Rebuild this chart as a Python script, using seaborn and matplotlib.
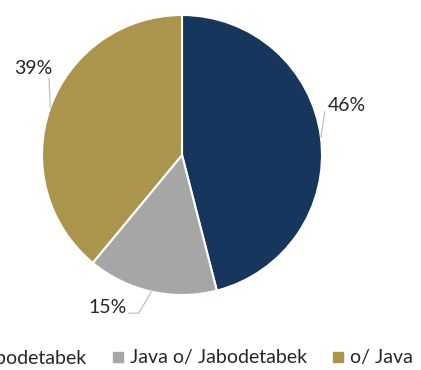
import numpy as np
import matplotlib
matplotlib.use("Agg")
import matplotlib.pyplot as plt
from matplotlib.lines import Line2D
import seaborn as sns

categories = ["Jabodetabek", "Java o/ Jabodetabek", "o/ Java"]
shares = [46, 15, 39]
pct_labels = ["46%", "15%", "39%"]
colors = ["#17365D", "#A6A6A6", "#AB944B"]

sns.set_theme(style="white")
plt.rcParams["font.family"] = ["Lato", "DejaVu Sans"]

W, H = 421, 370
fig = plt.figure(figsize=(W / 100, H / 100), dpi=100)
# pie of radius 1 centred at (182, 155) px, 140 px radius
cx, cy, r = 182, 155, 140
ax = fig.add_axes([(cx - r) / W, (H - cy - r) / H, 2 * r / W, 2 * r / H])

wedges, _ = ax.pie(shares, colors=colors, startangle=90, counterclock=False,
                   radius=1, wedgeprops=dict(edgecolor="white", linewidth=1.5))
ax.set_xlim(-1, 1)
ax.set_ylim(-1, 1)
ax.axis("off")

# label placement (text centre, elbow of leader line) in axes-data units
label_pos = [(1.18, 0.355), (-0.53, -1.09), (-1.06, 0.62)]
elbows = [[(1.02, 0.31)], [(-0.31, -1.13), (-0.38, -1.13)], [(-0.95, 0.55)]]

for w, lab, pos, elb in zip(wedges, pct_labels, label_pos, elbows):
    ang = np.deg2rad((w.theta1 + w.theta2) / 2)
    start = (np.cos(ang), np.sin(ang))
    pts = [start] + elb
    xs, ys = zip(*pts)
    ax.plot(xs, ys, color="#BFBFBF", lw=0.9, clip_on=False)
    ax.text(pos[0], pos[1], lab, ha="center", va="center", fontsize=14,
            color="#262626")

handles = [Line2D([0], [0], marker="s", linestyle="", markersize=6.5,
                  markerfacecolor=c, markeredgecolor=c) for c in colors]
# the legend row runs past the left edge of the figure
fig.legend(handles, categories, loc="center right",
           bbox_to_anchor=(423 / W, 1 - 358 / H), ncol=3, frameon=False,
           fontsize=14, handlelength=0.6, handletextpad=0.33,
           columnspacing=1.3, borderpad=0, labelcolor="#262626")

fig.savefig("out.png", dpi=100)
